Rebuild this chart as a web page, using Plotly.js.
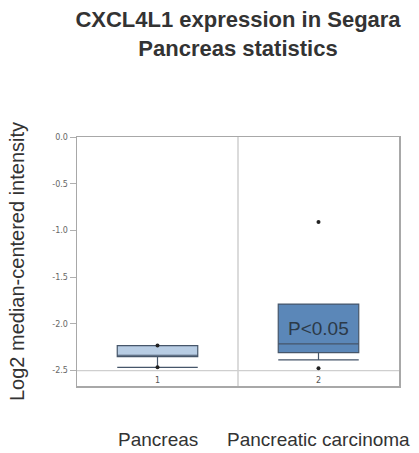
<!DOCTYPE html>
<html>
<head>
<meta charset="utf-8">
<script src="https://cdn.plot.ly/plotly-3.0.1.min.js"></script>
<style>
html,body{margin:0;padding:0;background:#fff;}
#chart{width:419px;height:453px;}
</style>
</head>
<body>
<div id="chart"></div>
<script>
// ---- data ----
const groupNames = ["Pancreas", "Pancreatic carcinoma"];
const groupIds = ["1", "2"];
const groupX = [1, 2];
const q1 = [-2.35, -2.307];
const medians = [-2.335, -2.214];
const q3 = [-2.232, -1.788];
const lowerWhisker = [-2.464, -2.385];
const upperWhisker = [-2.232, -1.788];
const minMaxPoints = [[-2.232, -2.464], [-0.909, -2.474]];
const boxFills = ["#b8cde4", "#5b87b8"];
const yTicks = [0, -0.5, -1.0, -1.5, -2.0, -2.5];
const yTickText = ["0.0", "-0.5", "-1.0", "-1.5", "-2.0", "-2.5"];
const pText = "P<0.05";
const pY = -2.045;
const idY = -2.6;
const baseLineY = -2.5;
const yRange = [-2.664, 0];

const traces = [];
groupX.forEach((gx, i) => {
  traces.push({
    type: "box",
    x: [gx],
    q1: [q1[i]],
    median: [medians[i]],
    q3: [q3[i]],
    lowerfence: [lowerWhisker[i]],
    upperfence: [upperWhisker[i]],
    width: 0.5,
    whiskerwidth: 1,
    fillcolor: boxFills[i],
    line: {color: "#46566a", width: 1.2},
    boxpoints: false,
    hoverinfo: "skip",
    showlegend: false
  });
  traces.push({
    type: "scatter",
    mode: "markers",
    x: minMaxPoints[i].map(() => gx),
    y: minMaxPoints[i],
    marker: {color: "#222", size: 4},
    hoverinfo: "skip",
    showlegend: false
  });
});

const annotations = [];
groupX.forEach((gx, i) => {
  annotations.push({
    x: gx, y: idY, xref: "x", yref: "y",
    text: groupIds[i], showarrow: false,
    font: {family: "DejaVu Sans", size: 8, color: "#555"}
  });
  annotations.push({
    x: gx, y: -0.215, xref: "x", yref: "paper",
    text: groupNames[i], showarrow: false, yanchor: "middle",
    font: {family: "Liberation Sans, Arial, sans-serif", size: 19, color: "#333"}
  });
});
annotations.push({
  x: groupX[1], y: pY, xref: "x", yref: "y",
  text: pText, showarrow: false,
  font: {family: "Liberation Sans, Arial, sans-serif", size: 19, color: "#2c3a48"}
});

const layout = {
  width: 419, height: 453,
  margin: {l: 77, r: 20, t: 137, b: 67},
  paper_bgcolor: "#fff",
  plot_bgcolor: "#fff",
  title: {
    text: "<b>CXCL4L1 expression in Segara<br>Pancreas statistics</b>",
    font: {family: "Liberation Sans, Arial, sans-serif", size: 22, color: "#333"},
    x: 0.5, xref: "paper", xanchor: "center",
    y: 0.94, yref: "container", yanchor: "top"
  },
  xaxis: {
    range: [0.5, 2.5],
    showticklabels: false,
    ticks: "",
    showgrid: false,
    zeroline: false,
    showline: true, mirror: true,
    linecolor: "#a8a8a8", linewidth: 1.5,
    fixedrange: true
  },
  yaxis: {
    range: yRange,
    tickvals: yTicks,
    ticktext: yTickText,
    ticks: "outside", ticklen: 6, tickcolor: "#b0b0b0", tickwidth: 1,
    tickfont: {family: "DejaVu Sans", size: 8, color: "#666"},
    showgrid: false,
    zeroline: false,
    showline: true, mirror: true,
    linecolor: "#a8a8a8", linewidth: 1.5,
    title: {
      text: "Log2 median-centered intensity",
      font: {family: "Liberation Sans, Arial, sans-serif", size: 20, color: "#333"},
      standoff: 22
    },
    fixedrange: true
  },
  shapes: [
    {type: "line", xref: "paper", yref: "y", x0: 0, x1: 1, y0: baseLineY, y1: baseLineY,
     line: {color: "#cfcfcf", width: 1.2}, layer: "below"},
    {type: "line", xref: "x", yref: "paper", x0: (groupX[0] + groupX[1]) / 2, x1: (groupX[0] + groupX[1]) / 2, y0: 0, y1: 1,
     line: {color: "#cfcfcf", width: 1.5}, layer: "below"}
  ],
  annotations: annotations,
  showlegend: false
};

Plotly.newPlot("chart", traces, layout, {displayModeBar: false, staticPlot: true});
</script>
</body>
</html>
